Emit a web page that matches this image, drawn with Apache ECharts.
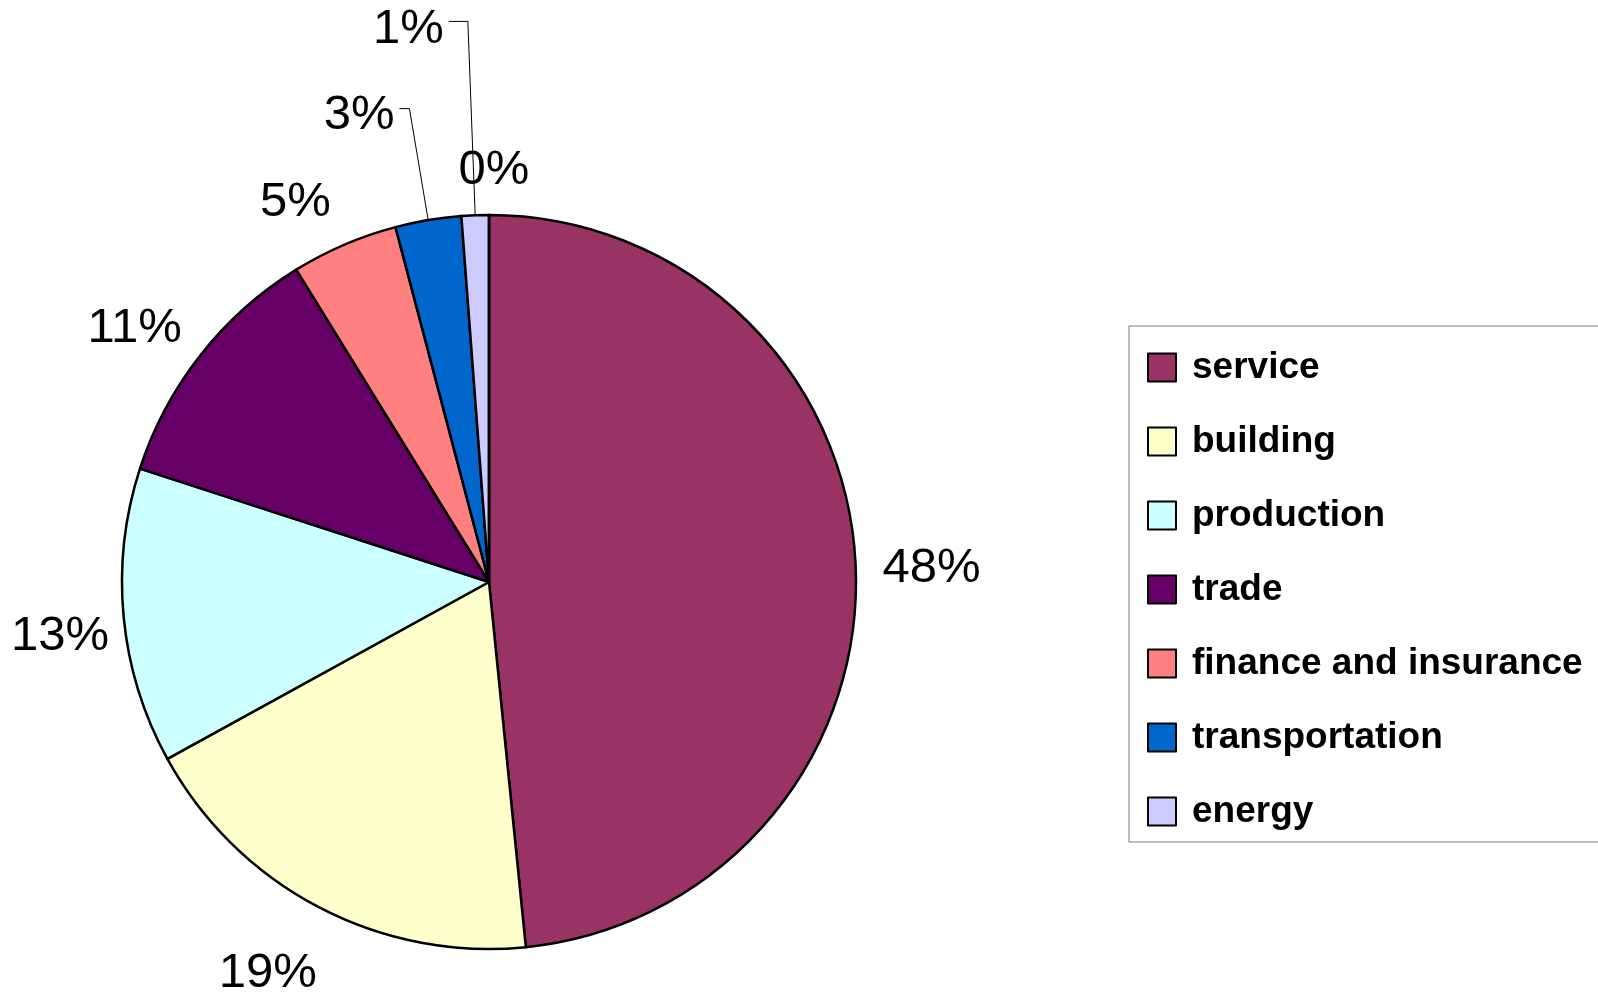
<!DOCTYPE html>
<html>
<head>
<meta charset="utf-8">
<script src="https://cdn.jsdelivr.net/npm/echarts@6/dist/echarts.min.js"></script>
<style>
html, body { margin: 0; padding: 0; background: #fff; }
#main { width: 1598px; height: 992px; }
</style>
</head>
<body>
<div id="main"></div>
<script>
// share of each sector (%)
var categories = ['service', 'building', 'production', 'trade', 'finance and insurance', 'transportation', 'energy', 'other'];
var shares = [48.4, 18.6, 13.0, 11.2, 4.7, 2.9, 1.2, 0];
// 'other' is 0 and has no legend entry
var legendNames = categories.slice(0, 7);

var colors = ['#993366', '#FFFFCC', '#CCFFFF', '#660066', '#FF8080', '#0066CC', '#CCCCFF', '#FFFFFF'];
// label distance from the rim, two small slices get leader lines
var labelLen = [76, 70, 64, 62, 58, 113, 194, 47];
var labelLen2 = [0, 0, 0, 0, 0, 10, 19, 0];
var withLeader = [false, false, false, false, false, true, true, false];
// small nudges of the label text
var nudgeX = [0, -18, 0, -17, -26, 0, 0, 5];
var nudgeY = [9, 5, 14, 12, 11, 7, 8, 2];

var myChart = echarts.init(document.getElementById('main'));

var pieData = categories.map(function (name, i) {
    return {
        name: name,
        value: shares[i],
        itemStyle: { color: colors[i] },
        label: { distanceToLabelLine: withLeader[i] ? 5 : 0 },
        labelLine: { show: withLeader[i], length: labelLen[i], length2: labelLen2[i] }
    };
});

var option = {
    animation: false,
    legend: {
        orient: 'vertical',
        left: 1129,
        top: 326,
        data: legendNames,
        icon: 'rect',
        itemWidth: 28,
        itemHeight: 28,
        itemGap: 37,
        padding: [23, 40, 12, 18],
        borderColor: '#7f7f7f',
        borderWidth: 1,
        selectedMode: false,
        itemStyle: { borderColor: '#000', borderWidth: 2 },
        textStyle: {
            fontFamily: 'Liberation Sans',
            fontWeight: 'bold',
            fontSize: 37,
            lineHeight: 37,
            color: '#000',
            padding: [0, 0, 0, 11]
        }
    },
    series: [
        {
            type: 'pie',
            center: [489, 582],
            radius: 367,
            startAngle: 90,
            clockwise: true,
            avoidLabelOverlap: false,
            emphasis: { disabled: true },
            itemStyle: { borderColor: '#000', borderWidth: 2.5 },
            label: {
                show: true,
                position: 'outside',
                fontFamily: 'Liberation Sans',
                fontSize: 49,
                color: '#000',
                formatter: function (params) {
                    return Math.round(params.percent) + '%';
                }
            },
            labelLine: {
                lineStyle: { color: '#000', width: 1 }
            },
            labelLayout: function (params) {
                var i = params.dataIndex;
                var res = { dx: nudgeX[i], dy: nudgeY[i] };
                if (!withLeader[i]) {
                    res.align = 'center';
                }
                return res;
            },
            data: pieData
        }
    ]
};

myChart.setOption(option);
</script>
</body>
</html>
